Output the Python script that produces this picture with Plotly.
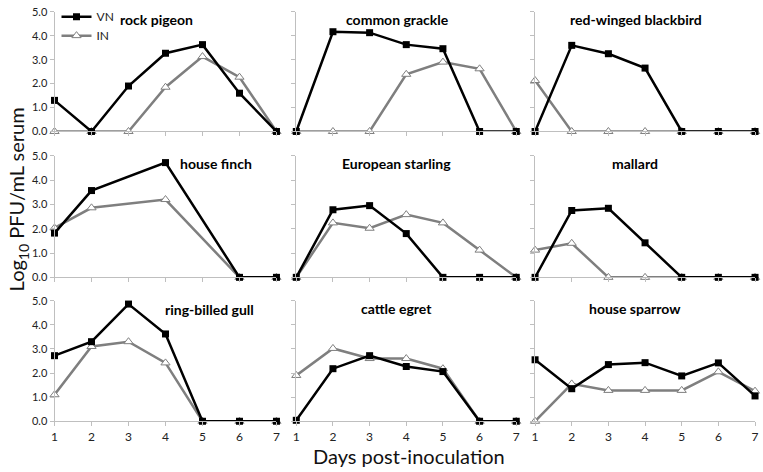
import plotly.graph_objects as go

W, H = 763, 472

days = [1, 2, 3, 4, 5, 6, 7]
birds = ["rock pigeon", "common grackle", "red-winged blackbird",
         "house finch", "European starling", "mallard",
         "ring-billed gull", "cattle egret", "house sparrow"]

vn_rock_pigeon = [1.30, 0.0, 1.90, 3.27, 3.63, 1.60, 0.0]
in_rock_pigeon = [0.0, 0.0, 0.0, 1.85, 3.13, 2.27, 0.0]
vn_common_grackle = [0.0, 4.17, 4.13, 3.63, 3.46, 0.0, 0.0]
in_common_grackle = [0.0, 0.0, 0.0, 2.39, 2.90, 2.62, 0.0]
vn_red_winged_blackbird = [0.0, 3.60, 3.25, 2.65, 0.0, 0.0, 0.0]
in_red_winged_blackbird = [2.13, 0.0, 0.0, 0.0, 0.0, 0.0, 0.0]
vn_house_finch = [1.82, 3.57, None, 4.72, None, 0.0, 0.0]
in_house_finch = [2.03, 2.86, None, 3.20, None, 0.0, 0.0]
vn_european_starling = [0.0, 2.78, 2.95, 1.80, 0.0, 0.0, 0.0]
in_european_starling = [0.0, 2.24, 2.02, 2.58, 2.24, 1.12, 0.0]
vn_mallard = [0.0, 2.75, 2.84, 1.42, 0.0, 0.0, 0.0]
in_mallard = [1.12, 1.40, 0.0, 0.0, 0.0, 0.0, 0.0]
vn_ring_billed_gull = [2.72, 3.30, 4.86, 3.62, 0.0, 0.0, 0.0]
in_ring_billed_gull = [1.10, 3.10, 3.30, 2.42, 0.0, 0.0, 0.0]
vn_cattle_egret = [0.04, 2.18, 2.72, 2.27, 2.06, 0.0, 0.0]
in_cattle_egret = [1.90, 3.02, 2.60, 2.60, 2.18, 0.0, 0.0]
vn_house_sparrow = [2.55, 1.35, 2.35, 2.43, 1.88, 2.42, 1.05]
in_house_sparrow = [0.0, 1.55, 1.28, 1.28, 1.28, 2.05, 1.25]

vn_series = [vn_rock_pigeon, vn_common_grackle, vn_red_winged_blackbird,
             vn_house_finch, vn_european_starling, vn_mallard,
             vn_ring_billed_gull, vn_cattle_egret, vn_house_sparrow]
in_series = [in_rock_pigeon, in_common_grackle, in_red_winged_blackbird,
             in_house_finch, in_european_starling, in_mallard,
             in_ring_billed_gull, in_cattle_egret, in_house_sparrow]

y_ticks = [0, 1, 2, 3, 4, 5]
y_ticktext = ["0.0", "1.0", "2.0", "3.0", "4.0", "5.0"]

# layout in pixels
col_px = [(52, 276), (296, 518), (537, 759)]
row_px = [(5, 128), (153, 278), (302, 426)]
title_px = [(155, 13), (398, 13), (639, 13),
            (215, 161), (397, 161), (638, 161),
            (208, 311), (397, 310), (638, 310)]

FONT = "Lato, Open Sans, Arial, sans-serif"
AX = "#BFBFBF"
GRAY = "#7F7F7F"

fig = go.Figure()
layout = dict(width=W, height=H, margin=dict(l=0, r=0, t=0, b=0),
              paper_bgcolor="white", plot_bgcolor="white",
              font=dict(family=FONT, color="#222"), annotations=[],
              showlegend=True)

for i in range(9):
    r, c = divmod(i, 3)
    n = "" if i == 0 else str(i + 1)
    xa, ya = "x" + n, "y" + n
    x0, x1 = col_px[c]
    yt, yb = row_px[r]
    layout["xaxis" + n] = dict(
        domain=[x0 / W, x1 / W], anchor=ya, range=[1, 7],
        tickvals=days, showticklabels=(r == 2), ticks="outside", ticklen=4,
        tickcolor=AX, showline=True, linecolor=AX, linewidth=1,
        showgrid=False, zeroline=False, tickfont=dict(size=12, color="#222"))
    layout["yaxis" + n] = dict(
        domain=[1 - yb / H, 1 - yt / H], anchor=xa, range=[0, 5],
        tickvals=y_ticks, ticktext=y_ticktext, showticklabels=(c == 0),
        ticks="outside", ticklen=4, tickcolor=AX, showline=True, linecolor=AX,
        linewidth=1, showgrid=False, zeroline=False,
        tickfont=dict(size=11, color="#222"))
    fig.add_trace(go.Scatter(
        x=days, y=in_series[i], xaxis=xa, yaxis=ya, name="IN",
        mode="lines+markers", connectgaps=True, cliponaxis=False,
        line=dict(color=GRAY, width=2.5),
        marker=dict(symbol="triangle-up", size=8, color="white",
                    line=dict(color=GRAY, width=1)),
        showlegend=(i == 0), legendrank=2))
    fig.add_trace(go.Scatter(
        x=days, y=vn_series[i], xaxis=xa, yaxis=ya, name="VN",
        mode="lines+markers", connectgaps=True, cliponaxis=False,
        line=dict(color="black", width=2.5),
        marker=dict(symbol="square", size=7, color="black"),
        showlegend=(i == 0), legendrank=1))
    tx, ty = title_px[i]
    layout["annotations"].append(dict(
        text="<b>" + birds[i] + "</b>", x=tx / W, y=1 - ty / H,
        xref="paper", yref="paper", xanchor="center", yanchor="middle",
        showarrow=False, font=dict(size=14, color="black", family=FONT)))

layout["annotations"].append(dict(
    text="Log<sub>10</sub> PFU/mL serum", x=15 / W, y=1 - 198 / H,
    xref="paper", yref="paper", textangle=-90, xanchor="center",
    yanchor="middle", showarrow=False, font=dict(size=20, color="#111")))
layout["annotations"].append(dict(
    text="Days post-inoculation", x=410 / W, y=1 - 462 / H,
    xref="paper", yref="paper", xanchor="center", yanchor="middle",
    showarrow=False, font=dict(size=20, color="#111")))

layout["legend"] = dict(x=54 / W, y=1 + 5 / H, xanchor="left", yanchor="top",
                        bgcolor="rgba(0,0,0,0)", font=dict(size=12),
                        itemwidth=30, tracegroupgap=0,
                        traceorder="normal")

fig.update_layout(**layout)
fig.write_html(
    "out.html",
    config={"displayModeBar": False},
    post_script="document.body.style.margin='0px';"
                "document.body.style.overflow='hidden';")
